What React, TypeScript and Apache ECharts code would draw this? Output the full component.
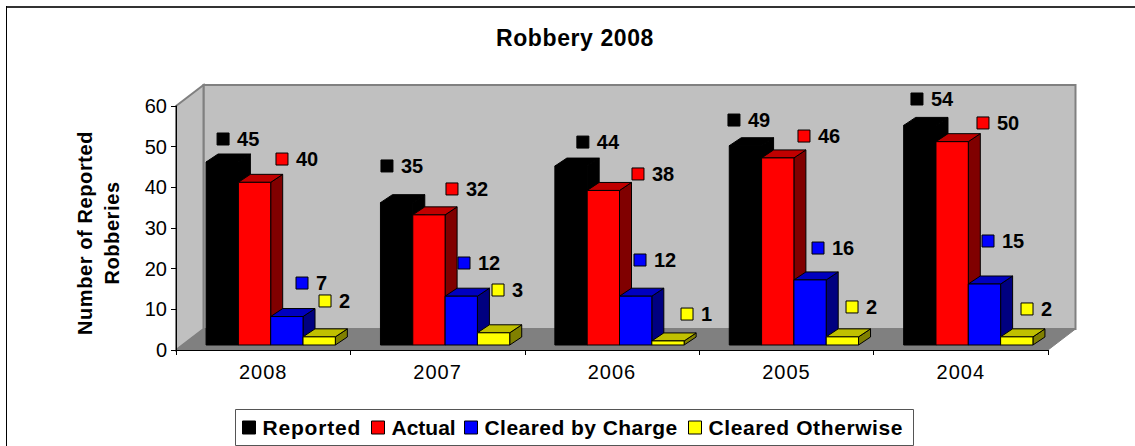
import React, { useEffect, useRef } from "react";
import * as echarts from "echarts";

const categories = ["2008", "2007", "2006", "2005", "2004"];
const reported = [45, 35, 44, 49, 54];
const actual = [40, 32, 38, 46, 50];
const clearedByCharge = [7, 12, 12, 16, 15];
const clearedOtherwise = [2, 3, 1, 2, 2];
const seriesNames = ["Reported", "Actual", "Cleared by Charge", "Cleared Otherwise"];
const seriesValues = [reported, actual, clearedByCharge, clearedOtherwise];

// shades: front, top, side
const shades = [
  ["#000000", "#000000", "#000000"],
  ["#ff0000", "#c00000", "#800000"],
  ["#0000ff", "#0000c0", "#000080"],
  ["#ffff00", "#c0c000", "#808000"],
];

// data-label nudges in px: marker centre relative to the bar's front top-left corner
const labelNudges = [
  [[17, -23], [6.5, -36.7], [28, -24], [4.7, -25.7], [13.3, -26.4]],
  [[43.6, -23.3], [39.2, -25.9], [50.8, -16.5], [42.4, -21.9], [47, -18.7]],
  [[31.3, -33.5], [18.9, -33.2], [20.5, -36.2], [24.1, -31.9], [19.7, -43]],
  [[22, -35.9], [20.6, -42.8], [35.2, -26.9], [25.8, -29.9], [26.4, -27.9]],
];

const FONT = '"Liberation Sans", Arial, sans-serif';
const WALL_DX = 27.5;
const WALL_DY = 21;
const FRONT_DX = 7.5;
const FRONT_DY = 5;
const BAR_DX = 12;
const BAR_DY = 8;
const BAR_RATIO = 0.1853;

const barGeom = (api: any, cat: number, val: number, s: number) => {
  const base = api.coord([cat, 0]);
  const top = api.coord([cat, val]);
  const w = api.size([1, 0])[0] * BAR_RATIO;
  const x = base[0] + FRONT_DX - 2 * w + s * w;
  return { x, w, y0: base[1] - FRONT_DY, y1: top[1] - FRONT_DY };
};

const barSeries = seriesNames.map((name, s) => ({
  type: "custom",
  name,
  z: 3,
  itemStyle: { color: shades[s][0] },
  encode: { x: 0, y: 1 },
  data: seriesValues[s].map((v, i) => [i, v]),
  renderItem: (_p: any, api: any) => {
    const { x, w, y0, y1 } = barGeom(api, api.value(0), api.value(1), s);
    const stroke = { stroke: "#000", lineWidth: 1 };
    return {
      type: "group",
      children: [
        {
          type: "polygon",
          shape: { points: [[x + w, y1], [x + w + BAR_DX, y1 - BAR_DY], [x + w + BAR_DX, y0 - BAR_DY], [x + w, y0]] },
          style: { fill: shades[s][2], ...stroke },
        },
        {
          type: "polygon",
          shape: { points: [[x, y1], [x + BAR_DX, y1 - BAR_DY], [x + w + BAR_DX, y1 - BAR_DY], [x + w, y1]] },
          style: { fill: shades[s][1], ...stroke },
        },
        { type: "rect", shape: { x, y: y1, width: w, height: y0 - y1 }, style: { fill: shades[s][0], ...stroke } },
      ],
    };
  },
}));

const labelSeries = seriesNames.map((name, s) => ({
  type: "custom",
  z: 4,
  silent: true,
  encode: { x: 0, y: 1 },
  data: seriesValues[s].map((v, i) => [i, v]),
  renderItem: (_p: any, api: any) => {
    const i = api.value(0);
    const val = api.value(1);
    const { x, y1 } = barGeom(api, i, val, s);
    const [dx, dy] = labelNudges[s][i];
    const mx = x + dx;
    const my = y1 + dy;
    return {
      type: "group",
      children: [
        {
          type: "rect",
          shape: { x: mx - 6, y: my - 6, width: 12, height: 12 },
          style: { fill: shades[s][0], stroke: "#000", lineWidth: 1 },
        },
        {
          type: "text",
          style: {
            x: mx + 14,
            y: my,
            text: String(val),
            fill: "#000",
            font: `bold 20px ${FONT}`,
            textAlign: "left",
            textVerticalAlign: "middle",
          },
        },
      ],
    };
  },
}));

const wallsSeries = {
  type: "custom",
  z: 1,
  silent: true,
  encode: { x: 0, y: 1 },
  data: [[0, 0]],
  renderItem: (p: any) => {
    const { x, y, width, height } = p.coordSys;
    const b = y + height;
    const r = x + width;
    const edge = { stroke: "#808080", lineWidth: 2 };
    return {
      type: "group",
      children: [
        { type: "rect", shape: { x: x + WALL_DX, y: y - WALL_DY, width: width, height }, style: { fill: "#c0c0c0", ...edge } },
        {
          type: "polygon",
          shape: { points: [[x, y], [x + WALL_DX, y - WALL_DY], [x + WALL_DX, b - WALL_DY], [x, b]] },
          style: { fill: "#c0c0c0", ...edge },
        },
        {
          type: "polygon",
          shape: { points: [[x, b], [x + WALL_DX, b - WALL_DY], [r + WALL_DX, b - WALL_DY], [r, b]] },
          style: { fill: "#808080", stroke: "#808080", lineWidth: 1 },
        },
      ],
    };
  },
};

const legendLefts = [242, 371, 464, 688];

const option: any = {
  animation: false,
  backgroundColor: "#fff",
  title: {
    text: "Robbery 2008",
    left: 570,
    top: 21,
    textAlign: "center",
    textStyle: { fontFamily: FONT, fontSize: 23, fontWeight: "bold", color: "#000" },
  },
  grid: { left: 176, right: 87, top: 106, bottom: 96, containLabel: false },
  xAxis: {
    type: "category",
    data: categories,
    z: 5,
    axisLine: { lineStyle: { color: "#000", width: 1 } },
    axisTick: { show: true, length: 5, lineStyle: { color: "#000" } },
    axisLabel: { color: "#000", fontFamily: FONT, fontSize: 20, margin: 12 },
  },
  yAxis: {
    type: "value",
    min: 0,
    max: 60,
    interval: 10,
    z: 5,
    name: "Number of Reported\nRobberies",
    nameLocation: "middle",
    nameGap: 51,
    nameRotate: 90,
    nameTextStyle: {
      fontFamily: FONT,
      fontSize: 20,
      fontWeight: "bold",
      color: "#000",
      lineHeight: 27,
      padding: [0, 10, 0, 0],
    },
    splitLine: { show: false },
    axisLine: { show: true, lineStyle: { color: "#000", width: 1 } },
    axisTick: { show: true, length: 5, lineStyle: { color: "#000" } },
    axisLabel: { color: "#000", fontFamily: FONT, fontSize: 20, margin: 9 },
  },
  legend: seriesNames.map((name, s) => ({
    data: [{ name, icon: "rect", itemStyle: { color: shades[s][0], borderColor: "#000", borderWidth: 1 } }],
    left: legendLefts[s],
    top: 417,
    padding: 0,
    itemWidth: 13,
    itemHeight: 13,
    selectedMode: false,
    textStyle: { fontFamily: FONT, fontSize: 21, fontWeight: "bold", color: "#000", padding: [0, 0, 0, 2] },
  })),
  graphic: [
    { type: "line", silent: true, shape: { x1: 6, y1: 7, x2: 1135, y2: 7 }, style: { stroke: "#333", lineWidth: 2 } },
    { type: "line", silent: true, shape: { x1: 6.5, y1: 6, x2: 6.5, y2: 446 }, style: { stroke: "#000", lineWidth: 1 } },
    {
      type: "rect",
      silent: true,
      z: -1,
      shape: { x: 235.5, y: 409.5, width: 678, height: 36 },
      style: { fill: "#fff", stroke: "#555", lineWidth: 1 },
    },
  ],
  series: [wallsSeries, ...barSeries, ...labelSeries],
};

const spacing: Record<string, string> = {
  Reported: "0.8px",
  Actual: "0px",
  "Cleared by Charge": "0.45px",
  "Cleared Otherwise": "0.6px",
  "Robbery 2008": "0.6px",
  "Number of Reported": "0.6px",
  Robberies: "0.6px",
  "2008": "1px",
  "2007": "1px",
  "2006": "1px",
  "2005": "1px",
  "2004": "1px",
};

export default function App() {
  const ref = useRef<HTMLDivElement>(null);
  useEffect(() => {
    document.body.style.margin = "0";
    const chart = echarts.init(ref.current!, undefined, { renderer: "svg" });
    chart.setOption(option);
    ref.current!.querySelectorAll("text").forEach((t) => {
      const c = (t.textContent || "").trim();
      if (spacing[c]) (t as any).style.letterSpacing = spacing[c];
    });
    return () => chart.dispose();
  }, []);
  return <div ref={ref} style={{ width: 1135, height: 446 }} />;
}
